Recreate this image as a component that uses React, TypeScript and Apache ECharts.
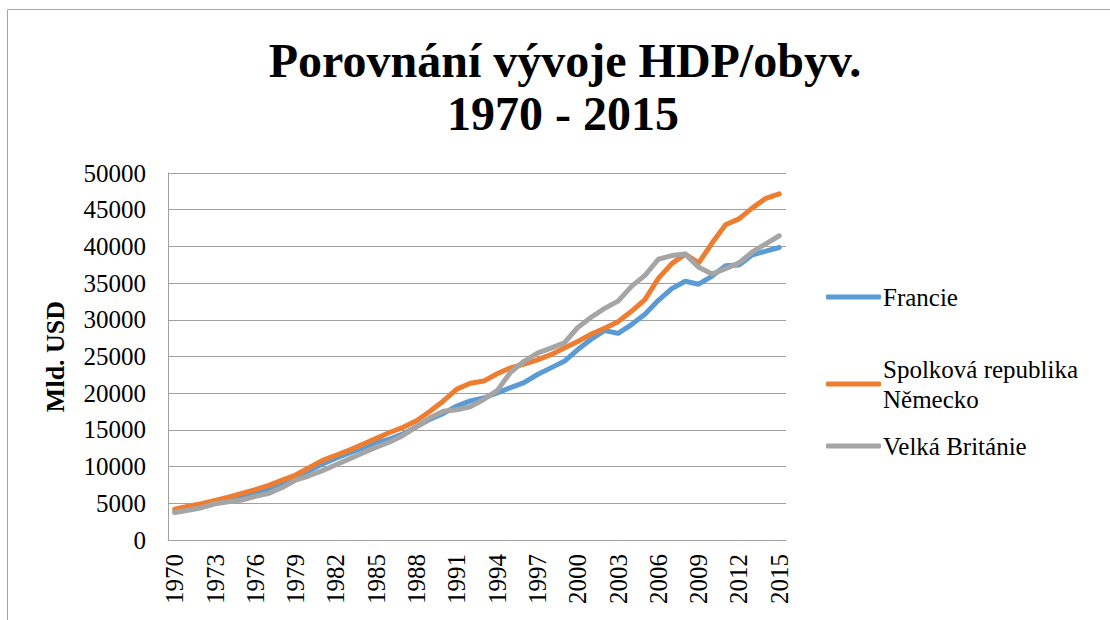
import React, { useEffect, useRef } from "react";
import * as echarts from "echarts";

const years: string[] = [];
for (let y = 1970; y <= 2015; y++) years.push(String(y));

const francie = [
  3800, 4150, 4500, 4950, 5350, 5750, 6250, 6850, 7650, 8450,
  9450, 10350, 11150, 11850, 12550, 13250, 13750, 14450, 15450, 16450,
  17250, 18250, 18950, 19350, 20050, 20750, 21450, 22550, 23450, 24350,
  25950, 27350, 28550, 28150, 29350, 30750, 32650, 34250, 35250, 34850,
  35950, 37350, 37450, 38850, 39350, 39850,
];
const nemecko = [
  4200, 4600, 4950, 5400, 5850, 6350, 6850, 7450, 8150, 8850,
  9850, 10850, 11550, 12250, 13050, 13850, 14650, 15350, 16250, 17550,
  18950, 20550, 21350, 21650, 22650, 23450, 23950, 24550, 25250, 26150,
  27050, 28050, 28850, 29750, 31150, 32750, 35650, 37650, 38950, 37750,
  40450, 42950, 43750, 45250, 46550, 47150,
];
const britanie = [
  3750, 4050, 4400, 4950, 5200, 5450, 5950, 6350, 7150, 8150,
  8750, 9450, 10250, 11050, 11850, 12650, 13350, 14250, 15450, 16650,
  17550, 17750, 18150, 19150, 20350, 22850, 24350, 25450, 26150, 26850,
  28950, 30350, 31550, 32550, 34550, 36050, 38250, 38750, 38950, 37150,
  36250, 36950, 37750, 39250, 40350, 41450,
];

const seriesNames = ["Francie", "Spolková republika\nNěmecko", "Velká Británie"];
const colors = ["#5B9BD5", "#ED7D31", "#A5A5A5"];
const titleLines = ["Porovnání vývoje HDP/obyv.", "1970 - 2015"];
const yAxisName = "Mld. USD";

export default function App() {
  const ref = useRef<HTMLDivElement>(null);
  useEffect(() => {
    if (!ref.current) return;
    const chart = echarts.init(ref.current, undefined, { renderer: "svg" });
    const serif = "'Liberation Serif', 'Times New Roman', serif";
    const data = [francie, nemecko, britanie];
    const legendTops = [282, 354, 431];
    chart.setOption({
      animation: false,
      textStyle: { fontFamily: serif },
      graphic: [
        {
          type: "rect",
          shape: { x: 7.5, y: 9.5, width: 1200, height: 700 },
          style: { fill: "none", stroke: "#a6a6a6", lineWidth: 1 },
          silent: true,
        },
        {
          type: "text",
          x: 565,
          y: 60,
          style: {
            text: titleLines[0],
            font: `bold 48px ${serif}`,
            fill: "#000",
            textAlign: "center",
            textVerticalAlign: "middle",
          },
        },
        {
          type: "text",
          x: 563,
          y: 113,
          style: {
            text: titleLines[1],
            font: `bold 48px ${serif}`,
            fill: "#000",
            textAlign: "center",
            textVerticalAlign: "middle",
          },
        },
      ],
      legend: seriesNames.map((n, i) => ({
        data: [n],
        left: 826,
        top: legendTops[i],
        padding: 0,
        orient: "vertical",
        icon: "roundRect",
        itemWidth: 55,
        itemHeight: 5,
        itemGap: 0,
        selectedMode: false,
        textStyle: {
          fontFamily: serif,
          fontSize: 25,
          color: "#000",
          lineHeight: 30,
          padding: [0, 0, 0, -3],
        },
      })),
      grid: { left: 168, right: 324, top: 173, bottom: 80, containLabel: false },
      xAxis: {
        type: "category",
        data: years,
        boundaryGap: true,
        axisLine: { show: true, lineStyle: { color: "#a0a0a0", width: 1 } },
        axisTick: { show: false },
        axisLabel: {
          interval: 2,
          rotate: 90,
          margin: 14,
          fontFamily: serif,
          fontSize: 25,
          color: "#000",
        },
      },
      yAxis: {
        type: "value",
        min: 0,
        max: 50000,
        interval: 5000,
        name: yAxisName,
        nameLocation: "middle",
        nameGap: 100,
        nameRotate: 90,
        nameTextStyle: { fontFamily: serif, fontSize: 26, fontWeight: "bold", color: "#000" },
        axisLine: { show: true, lineStyle: { color: "#a0a0a0", width: 1 } },
        axisTick: { show: false },
        splitLine: { lineStyle: { color: "#a0a0a0", width: 1 } },
        axisLabel: {
          margin: 22,
          fontFamily: serif,
          fontSize: 25,
          color: "#000",
          formatter: (v: number) => String(v),
        },
      },
      series: seriesNames.map((n, i) => ({
        name: n,
        type: "line",
        data: data[i],
        symbol: "none",
        color: colors[i],
        lineStyle: { width: 5, color: colors[i], cap: "round", join: "round" },
      })),
    });
    return () => chart.dispose();
  }, []);
  return (
    <div
      ref={ref}
      style={{ position: "fixed", left: 0, top: 0, width: 1110, height: 620, background: "#fff" }}
    />
  );
}
